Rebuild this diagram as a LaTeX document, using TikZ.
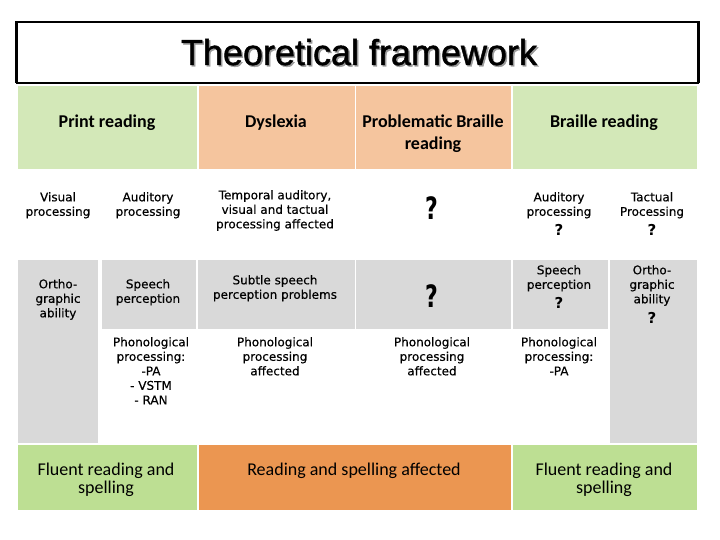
\documentclass[tikz,border=0pt]{standalone}
\usepackage{fontspec}
\setmainfont{DejaVu Sans}
\newfontfamily\smallfnt[FakeBold=0.35]{DejaVu Sans}
\newfontfamily\calib{Carlito}
\newfontfamily\ttlfont[FakeBold=1.3]{Liberation Sans}
\definecolor{hdrgreen}{HTML}{D3E8B8}
\definecolor{hdrpeach}{HTML}{F5C59E}
\definecolor{cellgray}{HTML}{D9D9D9}
\definecolor{botgreen}{HTML}{BDDF93}
\definecolor{botorange}{HTML}{EB9651}
\definecolor{shadowgray}{HTML}{9A9A9A}
\begin{document}
\begin{tikzpicture}[x=1pt,y=-1pt,
  cell/.style={anchor=north west, inner sep=0pt, outer sep=0pt, draw=none},
  small/.style={font=\smallfnt\fontsize{12}{14.5}\selectfont, align=center, inner sep=0pt, anchor=north},
  hdr/.style={font=\calib\bfseries\fontsize{18}{22}\selectfont, align=center, inner sep=0pt, anchor=north},
  bot/.style={font=\calib\fontsize{18}{18}\selectfont, align=center, inner sep=0pt, anchor=north},
  bigq/.style={font=\bfseries\fontsize{22}{22}\selectfont, inner sep=0pt},
  smallq/.style={font=\bfseries\fontsize{15}{15}\selectfont, inner sep=0pt},
  ttl/.style={anchor=base, inner sep=0pt, font=\ttlfont\fontsize{36}{36}\selectfont}]
\useasboundingbox (0,0) rectangle (720,540);
% title box
\node[cell, draw=black, line width=1.2pt, minimum width=682pt, minimum height=61pt] (tbox) at (16.3,22) {};
\draw[line width=2.6pt] (tbox.south west) -- (tbox.north west) -- (tbox.north east) -- (tbox.south east);
\node[ttl, text=shadowgray] (tshadow) at (360.5,66.5) {Theoretical framework};
\node[ttl] (title) at (359,65) {Theoretical framework};
% header cells
\node[cell, fill=hdrgreen, minimum width=179pt, minimum height=83pt] (h1) at (18,86) {};
\node[cell, fill=hdrpeach, minimum width=155.5pt, minimum height=83pt] (h2) at (199,86) {};
\node[cell, fill=hdrpeach, minimum width=155pt, minimum height=83pt] (h3) at (356,86) {};
\node[cell, fill=hdrgreen, minimum width=184pt, minimum height=83pt] (h4) at (513,86) {};
% gray cells
\node[cell, fill=cellgray, minimum width=80pt, minimum height=183pt] (g1) at (18,260) {};
\node[cell, fill=cellgray, minimum width=94.5pt, minimum height=69pt] (g2) at (101.5,260) {};
\node[cell, fill=cellgray, minimum width=156.5pt, minimum height=69pt] (g3) at (198,260) {};
\node[cell, fill=cellgray, minimum width=155pt, minimum height=69pt] (g4) at (356,260) {};
\node[cell, fill=cellgray, minimum width=94.5pt, minimum height=69pt] (g5) at (513,260) {};
\node[cell, fill=cellgray, minimum width=87.5pt, minimum height=183pt] (g6) at (609.5,260) {};
% bottom cells
\node[cell, fill=botgreen, minimum width=179pt, minimum height=65pt] (b1) at (18,445) {};
\node[cell, fill=botorange, minimum width=312pt, minimum height=65pt] (b2) at (199,445) {};
\node[cell, fill=botgreen, minimum width=184pt, minimum height=65pt] (b3) at (513,445) {};
% header texts
\node[hdr] (tprint) at (107,114.5) {Print reading};
\node[hdr] (tdys) at (276,114.5) {Dyslexia};
\node[hdr] (tprob) at (433,114.5) {Problematic Braille\\reading};
\node[hdr] (tbraille) at (604,114.5) {Braille reading};
% row 2
\node[small] (tvis) at (58,192) {Visual\\processing};
\node[small] (taud) at (148,192) {Auditory\\processing};
\node[small] (ttemp) at (275,190) {Temporal auditory,\\visual and tactual\\processing affected};
\node[bigq] (q1) at (432,208) {\scalebox{1}[1.4]{?}};
\node[small] (taud2) at (559,192) {Auditory\\processing};
\node[smallq] (q2) at (559,230) {?};
\node[small] (ttact) at (652,192) {Tactual\\Processing};
\node[smallq] (q3) at (652,230) {?};
% row 3
\node[small] (torth) at (58,279) {Ortho-\\graphic\\ability};
\node[small] (tspeech) at (148,279) {Speech\\perception};
\node[small] (tsubtle) at (275,275) {Subtle speech\\perception problems};
\node[bigq] (q4) at (432,296) {\scalebox{1}[1.4]{?}};
\node[small] (tspeech2) at (559,265) {Speech\\perception};
\node[smallq] (q5) at (559,303) {?};
\node[small] (torth2) at (652,265) {Ortho-\\graphic\\ability};
\node[smallq] (q6) at (652,318) {?};
% row 4
\node[small] (tphon1) at (151,337) {Phonological\\processing:\\-PA\\- VSTM\\- RAN};
\node[small] (tphon2) at (275,337) {Phonological\\processing\\affected};
\node[small] (tphon3) at (432,337) {Phonological\\processing\\affected};
\node[small] (tphon4) at (559,337) {Phonological\\processing:\\-PA};
% bottom texts
\node[bot] (tflu1) at (106,462.5) {Fluent reading and\\spelling};
\node[bot] (taff) at (354,462.5) {Reading and spelling affected};
\node[bot] (tflu2) at (604,462.5) {Fluent reading and\\spelling};
\end{tikzpicture}
\end{document}
